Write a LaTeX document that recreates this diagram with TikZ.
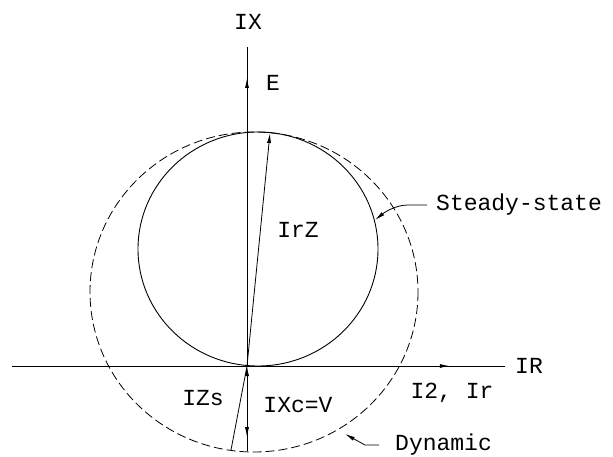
\documentclass[tikz,border=0pt]{standalone}
\usepackage{fontspec}
\setmainfont{Liberation Mono}
\usetikzlibrary{arrows.meta,decorations.markings}

\begin{document}
\begin{tikzpicture}[
    x=1pt, y=-1pt,
    font=\fontsize{23}{26}\selectfont,
    lbl/.style={inner sep=1pt},
    axis/.style={line width=1pt},
    vec/.style={-{Latex[length=10pt,width=4pt]}, line width=0.8pt},
    midarrow/.style={postaction={decorate}, decoration={markings,
        mark=at position #1 with {\arrow{Latex[length=10pt,width=4pt]}}}},
    steadycirc/.style={line width=0.9pt},
    dyncirc/.style={line width=0.8pt, dash pattern=on 9pt off 4pt}
    ]

    \useasboundingbox (0,0) rectangle (613,457);

    \coordinate (O) at (247,366);
    \coordinate (Zr) at (270,133);
    \coordinate (Zs) at (231,450);
    \coordinate (Xc) at (247,451);
    \coordinate (IXtop) at (247,47);
    \coordinate (IRstart) at (12,366);
    \coordinate (IRend) at (505,366);
    \coordinate (SStip) at (375,220);
    \coordinate (Dyntip) at (345,434);
    \coordinate (SScenter) at (258,249);
    \coordinate (Dyncenter) at (254,292);

    % circles
    \draw[steadycirc] (SScenter) ellipse [x radius=120, y radius=117];
    \draw[dyncirc] (Dyncenter) ellipse [x radius=164, y radius=160];

    % axes
    \draw[axis, midarrow=0.888] (IRstart) -- (IRend);
    \draw[axis, midarrow=0.903] (O) -- (IXtop);

    % vectors
    \draw[vec] (O) -- (Zr);
    \draw[line width=0.8pt] (Zs) -- (O);
    \draw[line width=0.8pt, {Latex[length=10pt,width=4pt]}-, midarrow=0.837] (O) -- (Xc);

    % labels
    \node[lbl] (IXlab) at (248,22) {IX};
    \node[lbl] (Elab) at (273,83) {E};
    \node[lbl] (IrZlab) at (298,230) {IrZ};
    \node[lbl] (IZslab) at (203,398) {IZs};
    \node[lbl] (IXclab) at (298,405) {IXc=V};
    \node[lbl] (IRlab) at (529,366) {IR};
    \node[lbl] (Irlab) at (452,393) {I2, Ir};
    \node[lbl, anchor=west] (SSlab) at (435,205) {Steady-state};
    \node[lbl, anchor=west] (Dynlab) at (394,445) {Dynamic};

    % leaders
    \draw[vec] ([xshift=-8pt]SSlab.west) -- ++(-19,0)
        .. controls +(-12,0) and +(10,-8) .. (SStip);
    \draw[vec] ([xshift=-15pt]Dynlab.west) -- ++(-14,0) -- (Dyntip);

\end{tikzpicture}
\end{document}
